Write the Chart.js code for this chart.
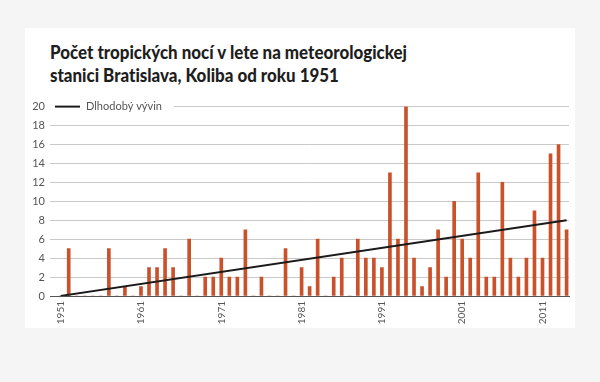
<!DOCTYPE html>
<html>
<head>
<meta charset="utf-8">
<script src="https://cdn.jsdelivr.net/npm/chart.js@4"></script>
<style>
  html, body { margin:0; padding:0; width:600px; height:382px; background:#f6f5f6; overflow:hidden; }
  #card { position:absolute; left:25px; top:28px; width:550px; height:300px; background:#ffffff; }
  #title { position:absolute; left:50px; top:41px; font-family:"Lato",sans-serif; font-weight:900; font-size:18px; line-height:23px; color:#1e1e1e; white-space:nowrap; transform-origin:0 0; font-variant-ligatures:none; }
  #wrap { position:absolute; left:25px; top:95px; width:550px; height:233px; overflow:hidden; }
  canvas { display:block; }
</style>
</head>
<body>
<div id="card"></div>
<div id="title"><span id="t1">Počet tropických nocí v lete na meteorologickej</span><br><span>stanici Bratislava, Koliba od roku 1951</span></div>
<div id="wrap"><canvas id="c"></canvas></div>
<script>
const years = [1951,1952,1953,1954,1955,1956,1957,1958,1959,1960,
  1961,1962,1963,1964,1965,1966,1967,1968,1969,1970,
  1971,1972,1973,1974,1975,1976,1977,1978,1979,1980,
  1981,1982,1983,1984,1985,1986,1987,1988,1989,1990,
  1991,1992,1993,1994,1995,1996,1997,1998,1999,2000,
  2001,2002,2003,2004,2005,2006,2007,2008,2009,2010,
  2011,2012,2013,2014];
const tropicalNights = [0,5,0,0,0,0,5,0,1,0,
  1,3,3,5,3,0,6,0,2,2,
  4,2,2,7,0,2,0,0,5,0,
  3,1,6,0,2,4,0,6,4,4,
  3,13,6,20,4,1,3,7,2,10,
  6,4,13,2,2,12,4,2,4,9,
  4,15,16,7];
const trendYears = [1951, 2014];
const trendValues = [0, 8];
const xTickLabels = [1951,1961,1971,1981,1991,2001,2011];
const yTickLabels = [0,2,4,6,8,10,12,14,16,18,20];
const legendLabel = "Dlhodobý vývin";

// fit title width
const t1 = document.getElementById('t1');
const w = t1.getBoundingClientRect().width;
document.getElementById('title').style.transform = 'scaleX(' + (357 / w) + ')';

const legendPlugin = {
  id: 'customLegend',
  afterDraw(chart) {
    const ctx = chart.ctx;
    const ca = chart.chartArea;
    const y = chart.scales.y.getPixelForValue(20);
    ctx.save();
    ctx.font = '11px Lato, sans-serif';
    const tw = ctx.measureText(legendLabel).width;
    ctx.fillStyle = '#ffffff';
    ctx.fillRect(ca.left, y - 7, 36 + tw + 12, 14);
    ctx.strokeStyle = '#1a1a1a';
    ctx.lineWidth = 2;
    ctx.beginPath();
    ctx.moveTo(ca.left + 5, y);
    ctx.lineTo(ca.left + 30, y);
    ctx.stroke();
    ctx.fillStyle = '#555555';
    ctx.textBaseline = 'middle';
    ctx.textAlign = 'left';
    ctx.fillText(legendLabel, ca.left + 36, y);
    ctx.restore();
  }
};

new Chart(document.getElementById('c'), {
  type: 'bar',
  data: {
    datasets: [
      {
        type: 'line',
        label: legendLabel,
        data: trendYears.map((x, i) => ({x: x, y: trendValues[i]})),
        borderColor: '#1a1a1a',
        borderWidth: 1.8,
        pointRadius: 0,
        fill: false,
        order: 0
      },
      {
        type: 'bar',
        label: 'Počet tropických nocí',
        data: years.map((x, i) => ({x: x, y: tropicalNights[i]})),
        backgroundColor: '#c9522b',
        barThickness: 3,
        order: 1
      }
    ]
  },
  plugins: [legendPlugin],
  options: {
    responsive: true,
    maintainAspectRatio: false,
    animation: false,
    layout: { padding: { top: 11, right: 6, left: 0, bottom: 0 } },
    plugins: { legend: { display: false }, tooltip: { enabled: false } },
    scales: {
      x: {
        type: 'linear',
        offset: false,
        min: 1949.67,
        max: 2014.3,
        afterFit(scale) { scale.height = 32; },
        afterBuildTicks(scale) { scale.ticks = xTickLabels.map(v => ({value: v})); },
        grid: { display: false, drawTicks: false, offset: false },
        border: { display: true, color: '#555555', width: 1 },
        ticks: {
          autoSkip: false,
          maxRotation: 90,
          minRotation: 90,
          padding: 5,
          color: '#555555',
          font: { family: 'Lato, sans-serif', size: 10 },
          callback: (v) => String(v)
        }
      },
      y: {
        min: 0,
        max: 20,
        afterFit(scale) { scale.width = 25; },
        afterBuildTicks(scale) { scale.ticks = yTickLabels.map(v => ({value: v})); },
        grid: {
          drawTicks: false,
          color: (c) => (c.tick && c.tick.value === 0) ? 'rgba(0,0,0,0)' : '#c9c9c9',
          lineWidth: 1
        },
        border: { display: false },
        ticks: {
          padding: 5,
          color: '#555555',
          font: { family: 'Lato, sans-serif', size: 11 }
        }
      }
    }
  }
});
</script>
</body>
</html>
